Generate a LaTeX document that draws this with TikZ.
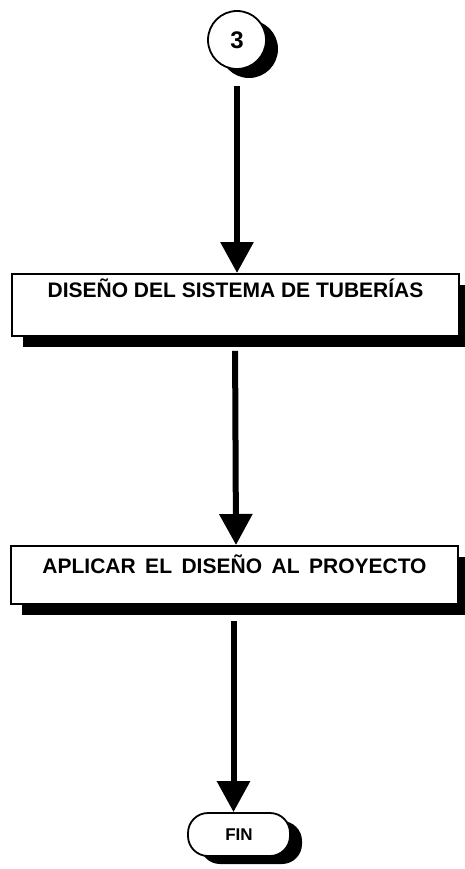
\documentclass[tikz,border=0pt]{standalone}
\usepackage{fontspec}
\setmainfont{Liberation Sans}
\usetikzlibrary{arrows.meta,shadows}
\begin{document}
\begin{tikzpicture}[x=1pt,y=1pt,
  shad/.style={drop shadow={shadow xshift=11pt,shadow yshift=-11pt,fill=black,opacity=1}},
  procbox/.style={draw=black,line width=1.8pt,fill=white,shad,inner sep=0pt,minimum width=447pt,
     font=\fontsize{21}{24}\selectfont\bfseries},
  conn/.style={draw=black,circle,line width=1.8pt,fill=white,minimum size=58pt,inner sep=0pt,
     drop shadow={shadow xshift=12pt,shadow yshift=-9pt,fill=black,opacity=1},
     font=\fontsize{24}{28}\selectfont\bfseries},
  term/.style={draw=black,line width=1.8pt,fill=white,rounded corners=20pt,minimum width=102pt,
     minimum height=43pt,inner sep=0pt,
     drop shadow={shadow xshift=12pt,shadow yshift=-8pt,fill=black,opacity=1},
     font=\fontsize{17}{20}\selectfont\bfseries},
  arr/.style={line width=6pt,-{Triangle[width=32pt,length=31pt]}}
]
\useasboundingbox (0,0) rectangle (465,-869);
\node[conn] (c3) at (237,-40) {3};
\node[procbox,text height=23.5pt,text depth=38.5pt] (b1) at (235.5,-273) [anchor=north] {DISEÑO DEL SISTEMA DE TUBERÍAS};
\node[procbox,text height=27.5pt,text depth=30.5pt] (b2) at (234.5,-545) [anchor=north] {{\spaceskip=9.5pt APLICAR EL DISEÑO AL PROYECTO}};
\node[term] (fin) at (239,-834.5) {FIN};
\draw[arr,shorten <=16pt] (c3.south) -- (c3.south |- b1.north);
\draw[arr,shorten <=14pt] ([xshift=-0.5pt]b1.south) -- ([xshift=0.5pt]b1.south |- b2.north);
\draw[arr,shorten <=16pt] ([xshift=-1pt]b2.south) -- ([xshift=-1pt]b2.south |- fin.north);
\end{tikzpicture}
\end{document}
